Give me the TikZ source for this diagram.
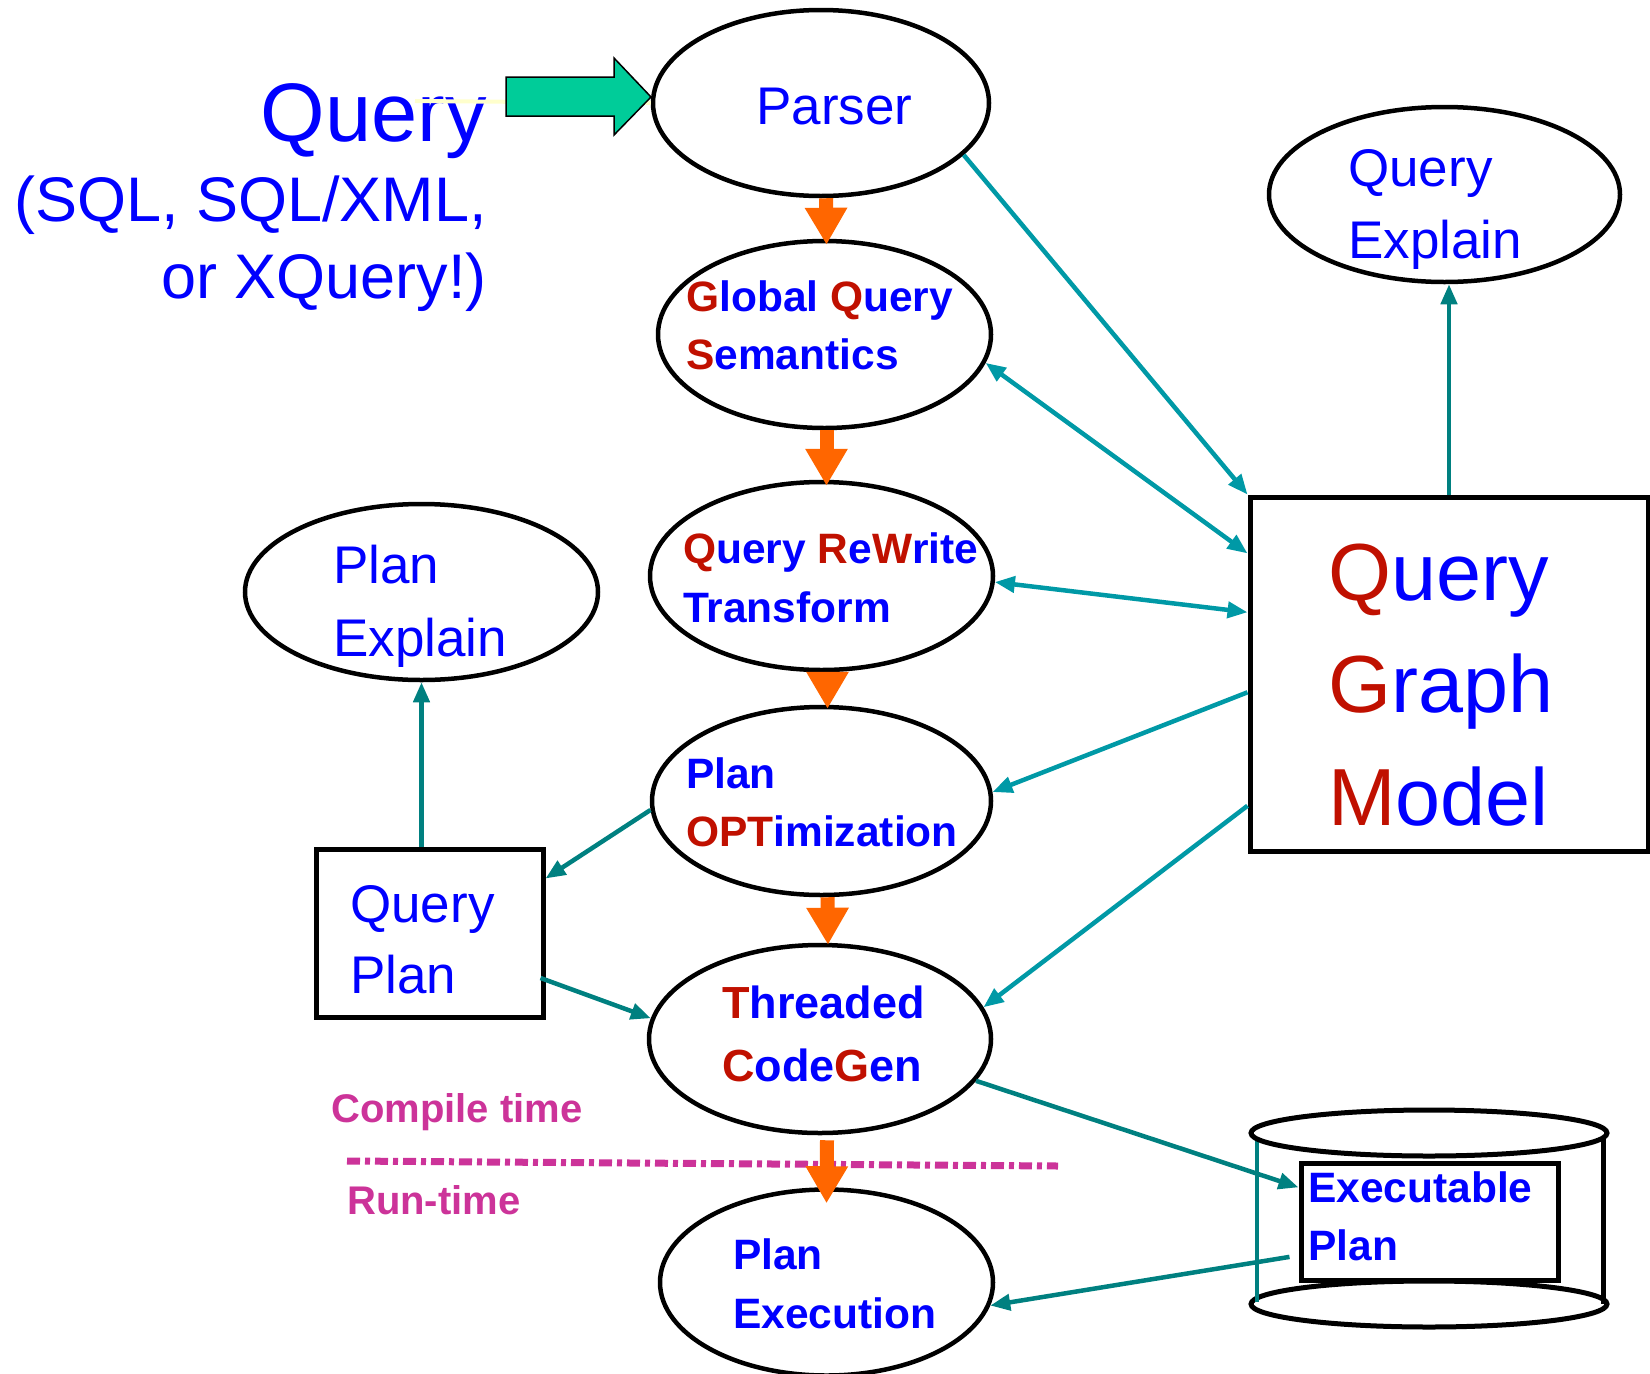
\documentclass[tikz,border=0pt]{standalone}
\usepackage{fontspec}
\setmainfont{Liberation Sans}
\usetikzlibrary{arrows.meta,shapes.geometric,calc}
\definecolor{qblue}{RGB}{0,0,255}
\definecolor{qred}{RGB}{192,16,0}
\definecolor{tealA}{RGB}{0,153,166}
\definecolor{tealB}{RGB}{0,128,128}
\definecolor{qorange}{RGB}{255,102,0}
\definecolor{qgreen}{RGB}{0,204,153}
\definecolor{qmag}{RGB}{204,51,153}
\definecolor{paleyel}{RGB}{255,255,204}
\newcommand{\fsz}[1]{\fontsize{#1}{#1}\selectfont}
\newcommand{\rd}[1]{\textcolor{qred}{#1}}
\tikzset{
  oval/.style={draw=black, line width=4.5pt, ellipse, inner sep=0pt},
  box/.style={draw=black, line width=5pt, rectangle, inner sep=0pt, fill=white},
  lbl/.style={anchor=base west, inner sep=0pt, text=qblue},
  rlbl/.style={lbl, font={\fsz{53}}},
  blbl/.style={lbl, font={\fsz{42.5}\bfseries}},
  flow/.style={draw=qorange, line width=14pt, -{Triangle[length=37pt,width=40pt]}},
  linkA/.style={draw=tealA, line width=4.5pt, -{Triangle[length=20pt,width=16pt]}},
  linkB/.style={draw=tealB, line width=4.5pt, -{Triangle[length=20pt,width=16pt]}},
  linkAA/.style={draw=tealA, line width=4.5pt, {Triangle[length=20pt,width=16pt]}-{Triangle[length=20pt,width=16pt]}},
}
\begin{document}
\begin{tikzpicture}[x=1pt,y=-1pt]
\useasboundingbox (0,0) rectangle (1650,1374);

% ---- left query text
\node[anchor=base east, inner sep=0pt, text=qblue, font={\fsz{83}}] (qtxt) at (487,141) {Query};
\node[anchor=base east, inner sep=0pt, text=qblue, font={\fsz{63}}] (qtxt2) at (487,221) {(SQL, SQL/XML,};
\node[anchor=base east, inner sep=0pt, text=qblue, font={\fsz{63}}] (qtxt3) at (487,298) {or XQuery!)};

% ---- pipeline ellipses
\node[oval, minimum width=336pt, minimum height=186pt] (parser) at (821,103) {};
\node[oval, minimum width=333pt, minimum height=187pt] (gqs) at (824.5,334.5) {};
\node[oval, minimum width=343pt, minimum height=188pt] (qrt) at (821.5,576) {};
\node[oval, minimum width=339pt, minimum height=188pt] (po) at (821.5,801) {};
\node[oval, minimum width=342pt, minimum height=188pt] (tc) at (820,1039) {};
\node[oval, minimum width=333pt, minimum height=186pt] (pexec) at (826.5,1282.5) {};
\node[oval, minimum width=351pt, minimum height=175pt] (qe) at (1444.5,194.5) {};
\node[oval, minimum width=353pt, minimum height=176pt] (pexpl) at (421.5,592) {};

% ---- boxes
\node[box, minimum width=398pt, minimum height=354pt] (qgm) at (1449,674) {};
\node[box, minimum width=227pt, minimum height=168pt] (qp) at (429.5,933) {};

% ---- cylinder
\draw[black, line width=5pt, fill=white] (1429,1304) ellipse [x radius=178, y radius=23];
\draw[black, line width=5pt] (1603,1133) -- (1603,1304);
\draw[tealB, line width=4.5pt] (1257,1136) -- (1257,1302);
\draw[black, line width=5pt, fill=white] (1429,1133) ellipse [x radius=178, y radius=23];
\node[box, minimum width=257pt, minimum height=117pt] (ep) at (1429.5,1221.5) {};

% ---- labels
\node[rlbl] (parsert) at (756,124) {Parser};
\node[rlbl] (qe1) at (1348,186) {Query};
\node[rlbl] (qe2) at (1348,258) {Explain};
\node[rlbl] (pe1) at (333,583) {Plan};
\node[rlbl] (pe2) at (333,656) {Explain};
\node[rlbl] (qp1) at (350,922) {Query};
\node[rlbl] (qp2) at (350,993) {Plan};
\node[lbl, font={\fsz{81}}] (qgm1) at (1328,600) {\rd{Q}uery};
\node[lbl, font={\fsz{81}}] (qgm2) at (1328,712) {\rd{G}raph};
\node[lbl, font={\fsz{81}}] (qgm3) at (1328,825) {\rd{M}odel};

\node[blbl] (g1) at (686,311) {\rd{G}lobal \rd{Q}uery};
\node[blbl] (g2) at (686,369) {\rd{S}emantics};
\node[blbl] (r1) at (683,563) {\rd{Q}uery \rd{R}e\rd{W}rite};
\node[blbl] (r2) at (683,622) {Transform};
\node[blbl] (o1) at (686,788) {Plan};
\node[blbl] (o2) at (686,846) {\rd{OPT}imization};
\node[lbl, font={\fsz{45}\bfseries}] (t1) at (722,1018) {\rd{T}hreaded};
\node[lbl, font={\fsz{45}\bfseries}] (t2) at (722,1081) {\rd{C}ode\rd{G}en};
\node[blbl] (x1) at (733,1269) {Plan};
\node[blbl] (x2) at (733,1328) {Execution};
\node[blbl] (ep1) at (1308,1202) {Executable};
\node[blbl] (ep2) at (1308,1260) {Plan};

\node[lbl, text=qmag, font={\fsz{40}\bfseries}] (ct) at (331,1122) {Compile time};
\node[lbl, text=qmag, font={\fsz{40}\bfseries}] (rt) at (347,1214) {Run-time};

% ---- compile / run divider
\coordinate (divA) at (347,1161);
\coordinate (divB) at (1058,1166);
\draw[qmag, line width=7pt, dash pattern=on 13pt off 5pt on 5pt off 5pt] (divA) -- (divB);

% ---- input arrow
\draw[paleyel, line width=4pt] (415,101) -- (parser.west);
\draw[black, line width=1.5pt, fill=qgreen] (506,77) -- (614,77) -- (614,58) -- (651,97) -- (614,135) -- (614,116) -- (506,116) -- cycle;

% ---- orange flow arrows
\draw[flow] ([xshift=5pt]parser.south) -- ([xshift=2pt,yshift=-6pt]gqs.north);
\draw[flow] ([xshift=2pt]gqs.south) -- ([xshift=5pt,yshift=-6pt]qrt.north);
\draw[flow] ([xshift=6pt]qrt.south) -- ([xshift=6pt,yshift=-4pt]po.north);
\draw[flow] ([xshift=6pt]po.south) -- ([xshift=8pt,yshift=-2pt]tc.north);
\draw[flow] ([xshift=7pt,yshift=-5pt]tc.south) -- ([xshift=0pt,yshift=-16pt]pexec.north);

% ---- teal connectors
\draw[linkA] (parser.-20) -- (qgm.north west);
\draw[linkAA] (gqs.-10) -- ($(qgm.north west)!0.164!(qgm.south west)$);
\draw[linkAA] (qrt.-2) -- ($(qgm.north west)!0.328!(qgm.south west)$);
\draw[linkA] ($(qgm.north west)!0.551!(qgm.south west)$) -- (po.3);
\draw[linkA] ($(qgm.north west)!0.867!(qgm.south west)$) -- (tc.11);
\draw[linkB] (qgm.north) -- (qgm.north |- qe.south);
\draw[linkB] (po.183) -- ($(qp.north east)!0.185!(qp.south east)$);
\draw[linkB] (pexpl.south |- qp.north) -- (pexpl.south);
\draw[linkB] ($(qp.north east)!0.76!(qp.south east)+(-5,0)$) -- (tc.173);
\draw[linkB] (tc.-15) -- ($(ep.north west)!0.22!(ep.south west)$);
\draw[linkB] ($(ep.north west)!0.79!(ep.south west)+(-9,0)$) -- (pexec.-8);
\end{tikzpicture}
\end{document}
